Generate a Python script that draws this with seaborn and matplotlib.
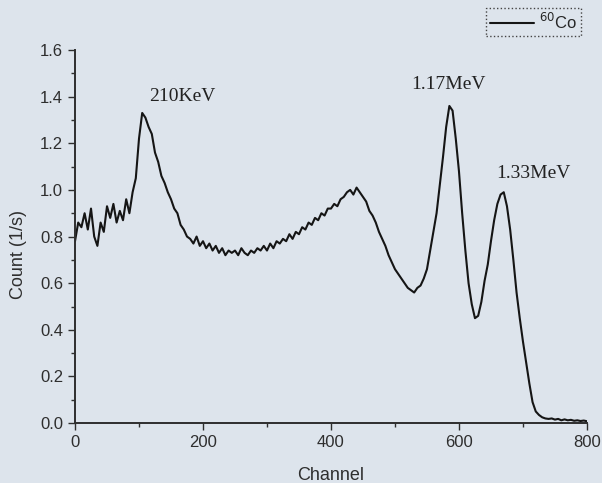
import matplotlib
matplotlib.use("Agg")
import matplotlib.pyplot as plt
import numpy as np
import seaborn as sns
from matplotlib.ticker import MultipleLocator

# channels every 5 from 0 to 800, counts
channel = np.arange(0, 805, 5)
count = [
    # 0 - 95
    0.78, 0.86, 0.84, 0.90, 0.83, 0.92, 0.80, 0.76, 0.86, 0.82,
    0.93, 0.88, 0.94, 0.86, 0.91, 0.87, 0.96, 0.90, 0.99, 1.05,
    # 100 - 195
    1.22, 1.33, 1.31, 1.27, 1.24, 1.16, 1.12, 1.06, 1.03, 0.99,
    0.96, 0.92, 0.90, 0.85, 0.83, 0.80, 0.79, 0.77, 0.80, 0.76,
    # 200 - 295
    0.78, 0.75, 0.77, 0.74, 0.76, 0.73, 0.75, 0.72, 0.74, 0.73,
    0.74, 0.72, 0.75, 0.73, 0.72, 0.74, 0.73, 0.75, 0.74, 0.76,
    # 300 - 395
    0.74, 0.77, 0.75, 0.78, 0.77, 0.79, 0.78, 0.81, 0.79, 0.82,
    0.81, 0.84, 0.83, 0.86, 0.85, 0.88, 0.87, 0.90, 0.89, 0.92,
    # 400 - 495
    0.92, 0.94, 0.93, 0.96, 0.97, 0.99, 1.00, 0.98, 1.01, 0.99,
    0.97, 0.95, 0.91, 0.89, 0.86, 0.82, 0.79, 0.76, 0.72, 0.69,
    # 500 - 595
    0.66, 0.64, 0.62, 0.60, 0.58, 0.57, 0.56, 0.58, 0.59, 0.62,
    0.66, 0.74, 0.82, 0.90, 1.02, 1.14, 1.27, 1.36, 1.34, 1.22,
    # 600 - 695
    1.08, 0.90, 0.74, 0.60, 0.51, 0.45, 0.46, 0.52, 0.61, 0.68,
    0.78, 0.87, 0.94, 0.98, 0.99, 0.93, 0.83, 0.70, 0.56, 0.45,
    # 700 - 795
    0.35, 0.26, 0.17, 0.09, 0.05, 0.035, 0.025, 0.02, 0.018, 0.02,
    0.015, 0.018, 0.012, 0.016, 0.012, 0.014, 0.01, 0.012, 0.009, 0.011,
    # 800
    0.008,
]

peak_labels = ["210KeV", "1.17MeV", "1.33MeV"]
peak_pos = [(167, 1.38), (584, 1.433), (717, 1.05)]

bg = "#dde4ec"
ink = "#2e2e2e"
sns.set_style("ticks")
plt.rcParams["font.family"] = ["Liberation Sans", "DejaVu Sans"]

fig = plt.figure(figsize=(6.02, 4.83), dpi=100, facecolor=bg)
ax = fig.add_axes([0.1246, 0.124, 0.8504, 0.7725])
ax.set_facecolor(bg)

sns.lineplot(x=channel, y=count, color="#151515", linewidth=1.5, ax=ax,
             label=r"$^{60}$Co", legend=False)

for txt, (cx, cy) in zip(peak_labels, peak_pos):
    ax.text(cx, cy, txt, ha="center", va="baseline", fontsize=14,
            family="Liberation Serif", color="#222222")

ax.set_xlim(0, 800)
ax.set_ylim(0, 1.6)
ax.xaxis.set_major_locator(MultipleLocator(200))
ax.xaxis.set_minor_locator(MultipleLocator(100))
ax.yaxis.set_major_locator(MultipleLocator(0.2))
ax.yaxis.set_minor_locator(MultipleLocator(0.1))
ax.yaxis.set_major_formatter(plt.FormatStrFormatter("%.1f"))
ax.tick_params(which="major", length=5, width=1, labelsize=12, colors=ink)
ax.tick_params(which="minor", length=3, width=1, colors=ink)
sns.despine(ax=ax)
for s in ["left", "bottom"]:
    ax.spines[s].set_linewidth(1.4)
    ax.spines[s].set_color(ink)

ax.set_xlabel("Channel", fontsize=13, color=ink)
ax.set_ylabel("Count (1/s)", fontsize=13, color=ink)
ax.xaxis.set_label_coords(0.5, -0.117)
ax.yaxis.set_label_coords(-0.094, 0.453)

h, l = ax.get_legend_handles_labels()
leg = fig.legend(h, l, loc="upper right", bbox_to_anchor=(0.965, 0.984),
                 fontsize=12, handlelength=2.6, handletextpad=0.3,
                 borderpad=0.25, borderaxespad=0.0, fancybox=False, framealpha=1)
leg.get_frame().set_facecolor(bg)
leg.get_frame().set_edgecolor("#444444")
leg.get_frame().set_linestyle(":")
leg.get_frame().set_linewidth(1.0)

fig.savefig("out.png", dpi=100, facecolor=bg)
